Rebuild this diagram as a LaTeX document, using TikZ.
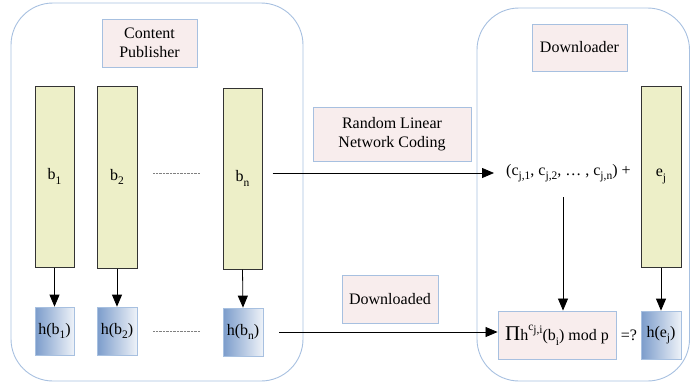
\documentclass[tikz,border=0pt]{standalone}
\usepackage{fontspec}
\setmainfont{Liberation Serif}
\usetikzlibrary{arrows.meta}
\definecolor{framec}{HTML}{A7C0E0}
\definecolor{yelfill}{HTML}{EDEFC8}
\definecolor{pinkfill}{HTML}{F8EDED}
\definecolor{hleft}{HTML}{7B9CCB}
\definecolor{hright}{HTML}{EEF2F8}
\newcommand{\sbs}[1]{\raisebox{-0.6ex}{\fontsize{11.5}{11.5}\selectfont #1}}
\tikzset{
  every node/.style={font=\fontsize{16}{18.5}\selectfont, inner sep=0pt},
  group/.style={draw=framec, line width=0.9pt, rounded corners=42pt},
  blockbox/.style={draw=black!80, fill=yelfill, line width=1pt},
  labelbox/.style={draw=framec, fill=pinkfill, line width=0.9pt, align=center},
  hashbox/.style={draw=framec, line width=0.7pt, left color=hleft, right color=hright},
  arr/.style={line width=0.8pt, -{Triangle[length=12pt,width=10pt]}},
  dotline/.style={gray, line width=0.7pt, dash pattern=on 0.8pt off 0.6pt}
}
\begin{document}
\begin{tikzpicture}[x=1pt,y=-1pt]
\useasboundingbox (0,0) rectangle (690,383);
% groups
\draw[group] (11,3) rectangle (303,381);
\draw[group] (477,8) rectangle (689.5,381);
% publisher side
\node[labelbox, minimum width=95pt, minimum height=48pt] (pub) at (149.5,43) {Content\\Publisher};
\node[blockbox, minimum width=39pt, minimum height=181pt] (b1) at (54.5,176.5) {b\sbs{1}};
\node[blockbox, minimum width=40pt, minimum height=182pt] (b2) at (117,177) {b\sbs{2}};
\node[blockbox, minimum width=39pt, minimum height=181pt] (bn) at (242.5,178.5) {b\sbs{n}};
\node[hashbox, minimum width=39pt, minimum height=48pt] (hb1) at (54.5,331) {h(b\sbs{1})};
\node[hashbox, minimum width=40pt, minimum height=48pt] (hb2) at (117,331) {h(b\sbs{2})};
\node[hashbox, minimum width=40pt, minimum height=48pt] (hbn) at (243,332) {h(b\sbs{n})};
\coordinate (d1a) at (153,173); \coordinate (d1b) at (200,173);
\coordinate (d2a) at (153,331); \coordinate (d2b) at (200,331);
\draw[dotline] (d1a) -- (d1b);
\draw[dotline] (d2a) -- (d2b);
\draw[arr] (b1.south) -- (hb1.north);
\draw[arr] (b2.south) -- (hb2.north);
\draw[arr] (bn.south) -- (hbn.north);
% middle labels
\node[labelbox, minimum width=158pt, minimum height=54pt] (rlnc) at (392,134) {Random Linear\\Network Coding};
\node[labelbox, minimum width=96pt, minimum height=48pt] (dld) at (390,299) {Downloaded};
% downloader side
\node[labelbox, minimum width=95pt, minimum height=47pt] (dl) at (579.5,47.5) {Downloader};
\node[anchor=west, inner xsep=12pt, inner ysep=3pt] (coef) at (494,173) {(c\sbs{j,1}, c\sbs{j,2}, \ldots\ , c\sbs{j,n}) +};
\node[blockbox, minimum width=40pt, minimum height=181pt] (ej) at (661,176.5) {e\sbs{j}};
\node[labelbox, minimum width=118pt, minimum height=48pt] (prod) at (557,335) {{\fontsize{21}{21}\selectfont Π}h\raisebox{1.4ex}{\fontsize{11.5}{11.5}\selectfont c\sbs{j,i}}(b\sbs{i}) mod p};
\node (eq) at (629,335) {=?};
\node[hashbox, minimum width=40pt, minimum height=48pt] (hej) at (661,335) {h(e\sbs{j})};
% connectors
\draw[arr] ([xshift=10pt]bn.east |- coef.west) -- (coef.west);
\draw[arr] ([xshift=16pt]hbn.east) -- (hbn.east -| prod.west);
\coordinate (c1) at (563,197);
\draw[arr] (c1) -- (c1 |- prod.north);
\draw[arr] (ej.south) -- (hej.north);
\end{tikzpicture}
\end{document}
